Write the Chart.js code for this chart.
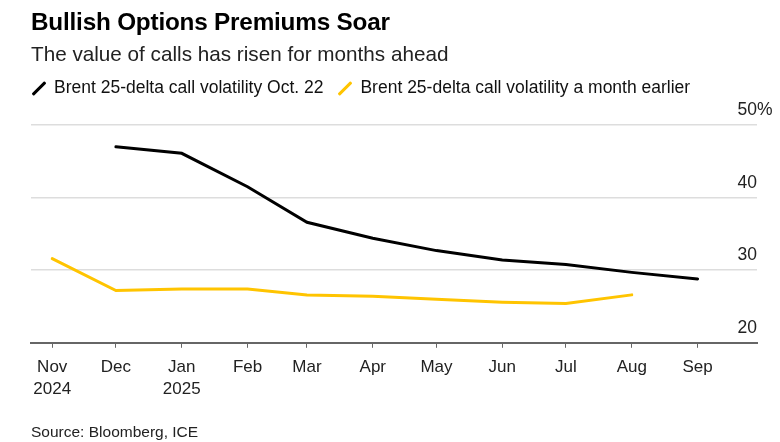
<!DOCTYPE html>
<html>
<head>
<meta charset="utf-8">
<script src="https://cdn.jsdelivr.net/npm/chart.js@4/dist/chart.umd.min.js"></script>
<style>
  html, body { margin: 0; padding: 0; background: #fff; }
  body { width: 780px; height: 442px; position: relative; overflow: hidden; font-family: "Liberation Sans", Arial, sans-serif; color: #000; }
  #title { position: absolute; left: 31px; top: 8px; font-size: 24.3px; font-weight: bold; letter-spacing: -0.2px; }
  #subtitle { position: absolute; left: 31px; top: 42px; font-size: 20.7px; color: #222; }
  #legend { position: absolute; left: 31px; top: 77px; font-size: 17.5px; color: #111; display: flex; align-items: center; }
  .item { display: flex; align-items: center; margin-right: 14px; }
  .sw { width: 16px; height: 16px; position: relative; margin-right: 7px; }
  .sw::after { content: ""; position: absolute; left: -1px; top: 7px; width: 18px; height: 3px; background: var(--c); transform: rotate(-45deg); border-radius: 1px; }
  #source { position: absolute; left: 31px; top: 423px; font-size: 15.5px; color: #222; }
  #wrap { position: absolute; left: 0; top: 0; width: 780px; height: 442px; }
</style>
</head>
<body>
<div id="wrap"><canvas id="c"></canvas></div>
<div id="title">Bullish Options Premiums Soar</div>
<div id="subtitle">The value of calls has risen for months ahead</div>
<div id="legend">
  <div class="item"><span class="sw" style="--c:#000"></span><span id="l1"></span></div>
  <div class="item"><span class="sw" style="--c:#ffc400"></span><span id="l2"></span></div>
</div>
<div id="source">Source: Bloomberg, ICE</div>
<script>
// ---- data ----
const seriesNames = ["Brent 25-delta call volatility Oct. 22", "Brent 25-delta call volatility a month earlier"];
const currentDates = ["2024-12-01","2025-01-01","2025-02-01","2025-03-01","2025-04-01","2025-05-01","2025-06-01","2025-07-01","2025-08-01","2025-09-01"];
const currentValues = [47.0, 46.1, 41.5, 36.6, 34.4, 32.7, 31.4, 30.8, 29.7, 28.8];
const earlierDates = ["2024-11-01","2024-12-01","2025-01-01","2025-02-01","2025-03-01","2025-04-01","2025-05-01","2025-06-01","2025-07-01","2025-08-01"];
const earlierValues = [31.6, 27.2, 27.4, 27.4, 26.6, 26.4, 26.0, 25.6, 25.4, 26.6];
const tickDates = ["2024-11-01","2024-12-01","2025-01-01","2025-02-01","2025-03-01","2025-04-01","2025-05-01","2025-06-01","2025-07-01","2025-08-01","2025-09-01"];
const tickLabels = [["Nov","2024"],"Dec",["Jan","2025"],"Feb","Mar","Apr","May","Jun","Jul","Aug","Sep"];
const yTicks = [20, 30, 40, 50];
const xStart = "2024-10-22";
const xEnd = "2025-09-29";

document.getElementById('l1').textContent = seriesNames[0];
document.getElementById('l2').textContent = seriesNames[1];

const DAY = 86400000;
const origin = Date.UTC(2024, 10, 1);
const toX = s => (Date.parse(s + "T00:00:00Z") - origin) / DAY;
const pts = (d, v) => d.map((s, i) => ({ x: toX(s), y: v[i] }));

const yLabelPlugin = {
  id: 'yLabels',
  afterDraw(chart) {
    const ctx = chart.ctx, y = chart.scales.y, right = chart.chartArea.right;
    ctx.save();
    ctx.font = '17.5px "Liberation Sans", Arial, sans-serif';
    ctx.fillStyle = '#222';
    ctx.textBaseline = 'alphabetic';
    yTicks.forEach(v => {
      const py = y.getPixelForValue(v) - 10;
      ctx.textAlign = 'right';
      ctx.fillText(String(v), right, py);
      if (v === yTicks[yTicks.length - 1]) {
        ctx.textAlign = 'left';
        ctx.fillText('%', right, py);
      }
    });
    ctx.restore();
  }
};

new Chart(document.getElementById('c'), {
  type: 'line',
  data: {
    datasets: [
      { label: seriesNames[0], data: pts(currentDates, currentValues), borderColor: '#000', borderWidth: 3, pointRadius: 0, tension: 0, borderCapStyle: 'round' },
      { label: seriesNames[1], data: pts(earlierDates, earlierValues), borderColor: '#ffc400', borderWidth: 3, pointRadius: 0, tension: 0, borderCapStyle: 'round' }
    ]
  },
  options: {
    responsive: true,
    maintainAspectRatio: false,
    animation: false,
    layout: { padding: { left: 31, right: 23, top: 125, bottom: 34 } },
    plugins: { legend: { display: false }, tooltip: { enabled: false } },
    scales: {
      x: {
        type: 'linear',
        min: toX(xStart),
        max: toX(xEnd),
        afterBuildTicks: s => { s.ticks = tickDates.map(d => ({ value: toX(d) })); },
        ticks: {
          autoSkip: false, maxRotation: 0, padding: 8,
          font: { family: '"Liberation Sans", Arial, sans-serif', size: 17, lineHeight: 1.3 },
          color: '#222',
          callback: (v, i) => tickLabels[i]
        },
        grid: { drawOnChartArea: false, drawTicks: true, tickLength: 5, color: '#666', tickWidth: 1 },
        border: { display: true, color: '#666', width: 2 }
      },
      y: {
        position: 'right',
        min: 20, max: 50,
        afterBuildTicks: s => { s.ticks = yTicks.map(v => ({ value: v })); },
        ticks: { display: false },
        grid: { color: '#dddddd', lineWidth: 1.5, drawTicks: false },
        border: { display: false }
      }
    }
  },
  plugins: [yLabelPlugin]
});
</script>
</body>
</html>
